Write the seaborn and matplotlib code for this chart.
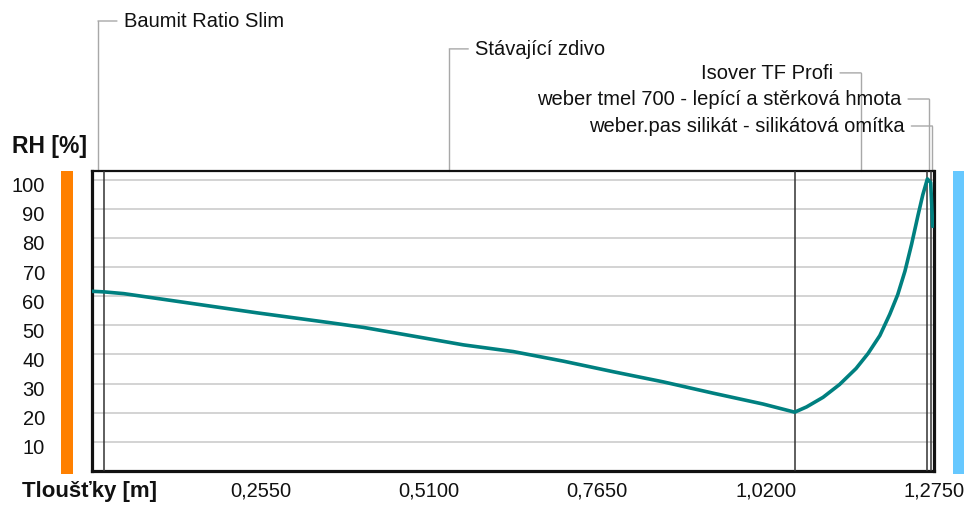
import matplotlib
matplotlib.use("Agg")
import matplotlib.pyplot as plt
import matplotlib.transforms as mtransforms
from matplotlib.patches import Rectangle
import numpy as np
import pandas as pd
import seaborn as sns

# Layers of the wall, from the interior side outward
layer_names = [
    "Baumit Ratio Slim",
    "Stávající zdivo",
    "Isover TF Profi",
    "weber tmel 700 - lepící a stěrková hmota",
    "weber.pas silikát - silikátová omítka",
]
layer_thickness = [0.018, 1.046, 0.201, 0.005, 0.005]

# Relative humidity profile through the wall
position_m = [0.000, 0.018, 0.048, 0.250, 0.361, 0.411, 0.487, 0.5625, 0.638,
              0.714, 0.789, 0.865, 0.941, 1.016, 1.064, 1.082, 1.107, 1.132,
              1.157, 1.175, 1.193, 1.208, 1.220, 1.231, 1.241, 1.251, 1.258,
              1.265, 1.270, 1.273]
rh_percent = [61.7, 61.5, 60.9, 54.3, 50.9, 49.3, 46.3, 43.3, 41.0,
              37.7, 34.1, 30.6, 26.7, 23.0, 20.2, 22.0, 25.3, 29.7,
              35.2, 40.3, 46.5, 53.8, 60.5, 68.6, 77.8, 88.0, 94.8,
              100.3, 99.0, 84.0]

rh_ticks = [10, 20, 30, 40, 50, 60, 70, 80, 90, 100]
x_step = 0.1275
x_tick_values = [x_step * i for i in range(1, 11)]
x_tick_labels = ["", "0,2550", "", "0,5100", "", "0,7650", "", "1,0200", "", "1,2750"]

sns.set_theme(style="white")
plt.rcParams["font.family"] = ["Liberation Sans", "DejaVu Sans"]

W, H = 967, 506
fig = plt.figure(figsize=(W / 100, H / 100), dpi=100)
fig.patch.set_facecolor("white")
ax = fig.add_axes([92 / W, 1 - 472 / H, (934 - 92) / W, 300 / H])
ax.set_facecolor("white")

profile = pd.DataFrame({"x": position_m, "rh": rh_percent})
sns.lineplot(data=profile, x="x", y="rh", ax=ax, color="#008080",
             linewidth=2.6, sort=False, zorder=4)

total = sum(layer_thickness)
ax.set_xlim(0, total)
ax.set_ylim(0, 103)
ax.set_xlabel("")
ax.set_ylabel("")

# horizontal grid
ax.set_yticks(rh_ticks)
ax.set_yticklabels([str(v) for v in rh_ticks])
ax.yaxis.grid(True, color="#c8c8c8", linewidth=1.1)
ax.xaxis.grid(False)
ax.set_axisbelow(True)
ax.tick_params(axis="y", length=0, pad=34, labelsize=14.5, labelcolor="#111111")
shift_down = mtransforms.ScaledTranslation(0, -4 / 100, fig.dpi_scale_trans)
for lbl in ax.get_yticklabels():
    lbl.set_transform(lbl.get_transform() + shift_down)

ax.set_xticks(x_tick_values)
ax.set_xticklabels(x_tick_labels)
ax.tick_params(axis="x", direction="in", length=6.5, width=0.9, color="#a0a0a0",
               pad=7, labelsize=14.5, labelcolor="#111111")

for side, lw in (("left", 2.3), ("bottom", 2.3), ("right", 2.3), ("top", 1.6)):
    ax.spines[side].set_visible(True)
    ax.spines[side].set_color("#111111")
    ax.spines[side].set_linewidth(lw)

# layer interfaces
bounds = np.cumsum(layer_thickness)
for b in bounds[:-1]:
    ax.axvline(b, color="#333333", linewidth=1.1, zorder=3)

# layer name callouts
blend = mtransforms.blended_transform_factory(ax.transData, ax.transAxes)
starts = np.concatenate([[0], bounds[:-1]])
mids = starts + np.array(layer_thickness) / 2
callout_y = [1.50, 1.407, 1.327, 1.24, 1.15]
callout_side = ["right", "right", "left", "left", "left"]
lead_col = "#a8a8a8"
for name, xm, yy, side in zip(layer_names, mids, callout_y, callout_side):
    ax.plot([xm, xm], [1.0, yy], transform=blend, color=lead_col,
            linewidth=1.0, clip_on=False, zorder=1)
    sgn = 1 if side == "right" else -1
    arm = 19 if side == "right" else 21
    ax.annotate("", xy=(xm, yy), xycoords=blend, xytext=(sgn * arm, 0),
                textcoords="offset pixels",
                arrowprops=dict(arrowstyle="-", color=lead_col, linewidth=1.0,
                                shrinkA=0, shrinkB=0))
    ax.annotate(name, xy=(xm, yy), xycoords=blend, xytext=(sgn * (arm + 7), 0),
                textcoords="offset pixels", ha="left" if side == "right" else "right",
                va="center", fontsize=14.5, color="#111111", annotation_clip=False)

# interior / exterior side markers
fig.add_artist(Rectangle((61 / W, 1 - 475 / H), 12 / W, 303 / H,
                         transform=fig.transFigure, facecolor="#ff8000",
                         edgecolor="none"))
fig.add_artist(Rectangle((953 / W, 1 - 475 / H), 11 / W, 303 / H,
                         transform=fig.transFigure, facecolor="#66c8ff",
                         edgecolor="none"))

fig.text(12 / W, 1 - 147 / H, "RH [%]", ha="left", va="center",
         fontsize=16.5, fontweight="bold", color="#111111")
fig.text(22 / W, 1 - 492 / H, "Tloušťky [m]", ha="left", va="center",
         fontsize=16, fontweight="bold", color="#111111")

fig.savefig("out.png", dpi=100, facecolor="white")
